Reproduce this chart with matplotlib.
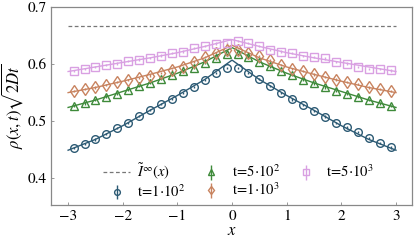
import matplotlib
matplotlib.use("Agg")
from matplotlib import pyplot as plt

plt.rcParams['font.family'] = ['STIXGeneral', 'DejaVu Serif']
plt.rcParams['mathtext.fontset'] = 'stix'

# marker positions (simulation data)
x_data = [-2.9, -2.7, -2.5, -2.3, -2.1, -1.9, -1.7, -1.5, -1.3, -1.1, -0.9, -0.7, -0.5, -0.3, -0.1,
          0.1, 0.3, 0.5, 0.7, 0.9, 1.1, 1.3, 1.5, 1.7, 1.9, 2.1, 2.3, 2.5, 2.7, 2.9]

rho_1e2 = [0.453, 0.460, 0.468, 0.478, 0.488, 0.497, 0.509, 0.519, 0.530, 0.539, 0.549, 0.560, 0.572, 0.585, 0.593,
           0.593, 0.585, 0.574, 0.561, 0.549, 0.538, 0.528, 0.518, 0.508, 0.497, 0.489, 0.481, 0.471, 0.462, 0.454]
rho_5e2 = [0.526, 0.531, 0.537, 0.543, 0.547, 0.554, 0.561, 0.567, 0.574, 0.581, 0.588, 0.594, 0.602, 0.610, 0.617,
           0.618, 0.612, 0.604, 0.596, 0.588, 0.581, 0.573, 0.566, 0.559, 0.553, 0.547, 0.543, 0.537, 0.531, 0.526]
rho_1e3 = [0.553, 0.556, 0.559, 0.563, 0.568, 0.572, 0.576, 0.580, 0.585, 0.589, 0.595, 0.604, 0.612, 0.620, 0.625,
           0.625, 0.620, 0.614, 0.607, 0.598, 0.592, 0.588, 0.582, 0.578, 0.573, 0.569, 0.565, 0.559, 0.556, 0.553]
rho_5e3 = [0.588, 0.592, 0.595, 0.598, 0.601, 0.605, 0.608, 0.611, 0.615, 0.619, 0.622, 0.628, 0.632, 0.636, 0.637,
           0.640, 0.637, 0.632, 0.625, 0.622, 0.620, 0.614, 0.612, 0.610, 0.604, 0.601, 0.595, 0.592, 0.591, 0.589]
err = [0.002] * len(x_data)

# theory curves
x_th = [-3, -2.5, -2, -1.5, -1, -0.5, 0, 0.5, 1, 1.5, 2, 2.5, 3]
th_1e2 = [0.449, 0.468, 0.492, 0.519, 0.545, 0.573, 0.607, 0.573, 0.545, 0.519, 0.492, 0.468, 0.449]
th_5e2 = [0.524, 0.537, 0.552, 0.567, 0.584, 0.604, 0.629, 0.604, 0.584, 0.567, 0.552, 0.537, 0.524]
th_1e3 = [0.550, 0.559, 0.570, 0.582, 0.595, 0.611, 0.633, 0.611, 0.595, 0.582, 0.570, 0.559, 0.550]
th_5e3 = [0.587, 0.595, 0.603, 0.611, 0.620, 0.631, 0.643, 0.631, 0.620, 0.611, 0.603, 0.595, 0.587]

x_inf = [-3, 3]
I_inf = [2 / 3, 2 / 3]

series = [
    (rho_1e2, th_1e2, '#2c5a74', 'o', r'$\mathrm{t\!=\!1{\cdot}10^2}$'),
    (rho_5e2, th_5e2, '#3e8a3a', '^', r'$\mathrm{t\!=\!5{\cdot}10^2}$'),
    (rho_1e3, th_1e3, '#c8835f', 'd', r'$\mathrm{t\!=\!1{\cdot}10^3}$'),
    (rho_5e3, th_5e3, '#d9a0e2', 's', r'$\mathrm{t\!=\!5{\cdot}10^3}$'),
]

fig = plt.figure(figsize=(4.16, 2.44), dpi=100)
ax = fig.add_axes([0.123, 0.160, 0.867, 0.811])

h_inf, = ax.plot(x_inf, I_inf, ls='--', color='#777777', lw=0.9, dashes=(3, 2),
                 label=r'$\tilde{I}^{\infty}(x)$')
handles = [h_inf]
for rho, th, c, m, lab in series:
    ax.plot(x_th, th, color=c, lw=1.0)
    h = ax.errorbar(x_data, rho, yerr=err, fmt=m, ms=5.5 if m != 'd' else 6,
                    mfc='none', mec=c, mew=1.0, ecolor=c, elinewidth=1.0, label=lab)
    handles.append(h)

ax.set_xlim(-3.31, 3.29)
ax.set_ylim(0.353, 0.7)
ax.set_xticks([-3, -2, -1, 0, 1, 2, 3])
ax.set_yticks([0.4, 0.5, 0.6, 0.7])
ax.set_yticklabels(['0.4', '0.5', '0.6', '0.7'])
ax.set_xticklabels(['\u22123', '\u22122', '\u22121', '0', '1', '2', '3'])
ax.tick_params(labelsize=11, length=2, width=0.6, color='#888888', direction='in', pad=3)
for s in ax.spines.values():
    s.set_color('#888888')
    s.set_linewidth(0.9)

ax.set_xlabel(r'$x$', fontsize=12, labelpad=0)
ax.set_ylabel(r'$\rho(x,t)\sqrt{2Dt}$', fontsize=12, labelpad=2)

ax.legend(handles=handles, ncol=3, loc='lower center', bbox_to_anchor=(0.52, -0.02),
          frameon=False, fontsize=10.5, handlelength=1.8, handletextpad=0.5,
          columnspacing=0.9, labelspacing=0.1, borderaxespad=0.2, markerscale=0.75)

fig.savefig('out.png', dpi=100)
